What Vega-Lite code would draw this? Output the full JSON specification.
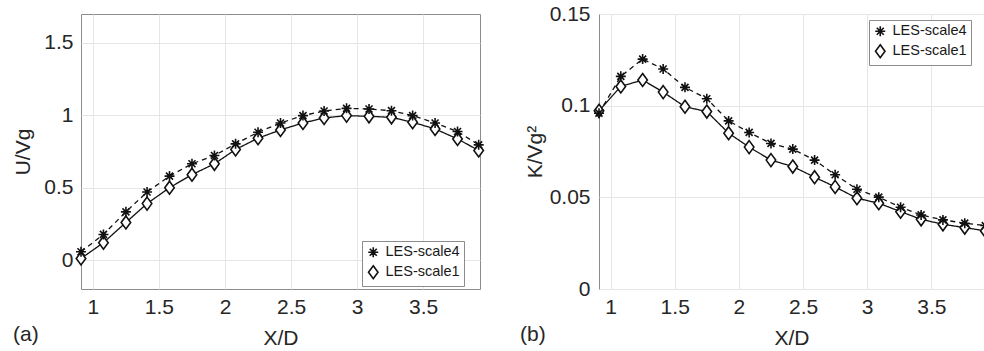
{
  "$schema": "https://vega.github.io/schema/vega-lite/v6.json",
  "background": "white",
  "padding": {"left": 12, "top": 2, "right": 0, "bottom": 0},
  "config": {
    "font": "Liberation Sans",
    "view": {"stroke": "#8c8c8c", "strokeWidth": 1},
    "axis": {
      "labelFont": "Liberation Sans", "titleFont": "Liberation Sans",
      "labelFontSize": 21, "titleFontSize": 21, "titleFontWeight": "normal",
      "labelColor": "#262626", "titleColor": "#262626",
      "domain": false, "ticks": false, "grid": true, "gridColor": "#e6e6e6", "gridWidth": 1,
      "labelExpr": "datum.value + ''", "labelFlush": false, "labelOverlap": false
    },
    "legend": {
      "labelFont": "Liberation Sans", "labelFontSize": 14.5, "labelColor": "#1a1a1a",
      "strokeColor": "#8c8c8c", "fillColor": "white", "padding": 4, "rowPadding": 1,
      "labelOffset": 5
    },
    "title": {"font": "Liberation Sans", "fontSize": 21, "fontWeight": "normal", "color": "#262626"}
  },
  "datasets": {
    "d": [
      {"series": "LES-scale1", "x": 0.91, "u": 0.011, "k": 0.0972},
      {"series": "LES-scale1", "x": 1.08, "u": 0.12, "k": 0.1105},
      {"series": "LES-scale1", "x": 1.25, "u": 0.26, "k": 0.114},
      {"series": "LES-scale1", "x": 1.41, "u": 0.39, "k": 0.1074},
      {"series": "LES-scale1", "x": 1.58, "u": 0.5, "k": 0.0994},
      {"series": "LES-scale1", "x": 1.75, "u": 0.59, "k": 0.0968},
      {"series": "LES-scale1", "x": 1.92, "u": 0.665, "k": 0.085},
      {"series": "LES-scale1", "x": 2.08, "u": 0.764, "k": 0.0774},
      {"series": "LES-scale1", "x": 2.25, "u": 0.842, "k": 0.0703},
      {"series": "LES-scale1", "x": 2.42, "u": 0.899, "k": 0.0668},
      {"series": "LES-scale1", "x": 2.59, "u": 0.947, "k": 0.061},
      {"series": "LES-scale1", "x": 2.75, "u": 0.982, "k": 0.0557},
      {"series": "LES-scale1", "x": 2.92, "u": 0.998, "k": 0.0495},
      {"series": "LES-scale1", "x": 3.09, "u": 0.993, "k": 0.0468},
      {"series": "LES-scale1", "x": 3.26, "u": 0.986, "k": 0.0422},
      {"series": "LES-scale1", "x": 3.42, "u": 0.952, "k": 0.038},
      {"series": "LES-scale1", "x": 3.59, "u": 0.906, "k": 0.0353},
      {"series": "LES-scale1", "x": 3.76, "u": 0.837, "k": 0.0335},
      {"series": "LES-scale1", "x": 3.92, "u": 0.757, "k": 0.0317},
      {"series": "LES-scale4", "x": 0.91, "u": 0.057, "k": 0.0959},
      {"series": "LES-scale4", "x": 1.08, "u": 0.177, "k": 0.116},
      {"series": "LES-scale4", "x": 1.25, "u": 0.333, "k": 0.1254},
      {"series": "LES-scale4", "x": 1.41, "u": 0.47, "k": 0.12},
      {"series": "LES-scale4", "x": 1.58, "u": 0.58, "k": 0.11},
      {"series": "LES-scale4", "x": 1.75, "u": 0.665, "k": 0.1038},
      {"series": "LES-scale4", "x": 1.92, "u": 0.722, "k": 0.0917},
      {"series": "LES-scale4", "x": 2.08, "u": 0.803, "k": 0.0854},
      {"series": "LES-scale4", "x": 2.25, "u": 0.883, "k": 0.0794},
      {"series": "LES-scale4", "x": 2.42, "u": 0.947, "k": 0.0763},
      {"series": "LES-scale4", "x": 2.59, "u": 0.998, "k": 0.0703},
      {"series": "LES-scale4", "x": 2.75, "u": 1.03, "k": 0.0623},
      {"series": "LES-scale4", "x": 2.92, "u": 1.048, "k": 0.0544},
      {"series": "LES-scale4", "x": 3.09, "u": 1.044, "k": 0.0501},
      {"series": "LES-scale4", "x": 3.26, "u": 1.032, "k": 0.0446},
      {"series": "LES-scale4", "x": 3.42, "u": 0.998, "k": 0.0404},
      {"series": "LES-scale4", "x": 3.59, "u": 0.947, "k": 0.0377},
      {"series": "LES-scale4", "x": 3.76, "u": 0.888, "k": 0.0359},
      {"series": "LES-scale4", "x": 3.92, "u": 0.796, "k": 0.0346}
    ]
  },
  "data": {"name": "d"},
  "bounds": "flush",
  "spacing": 119,
  "resolve": {
    "scale": {"shape": "independent", "x": "independent", "y": "independent"},
    "legend": {"shape": "independent"}
  },
  "hconcat": [
    {
      "width": 399,
      "height": 275,
      "title": {"text": "(a)", "orient": "bottom", "anchor": "start", "frame": "group", "dx": -68, "dy": -24, "offset": 0},
      "encoding": {
        "x": {"field": "x", "type": "quantitative", "scale": {"domain": [0.91, 3.93], "nice": false, "zero": false},
              "axis": {"title": "X/D", "values": [1, 1.5, 2, 2.5, 3, 3.5], "labelPadding": 7, "titlePadding": 10}},
        "y": {"field": "u", "type": "quantitative", "scale": {"domain": [-0.2, 1.7], "nice": false, "zero": false},
              "axis": {"title": "U/Vg", "values": [0, 0.5, 1, 1.5], "labelPadding": 8, "titlePadding": 10}}
      },
      "layer": [
        {
          "mark": {"type": "line", "color": "#111111", "strokeWidth": 1.3, "clip": true},
          "encoding": {
            "detail": {"field": "series", "type": "nominal"},
            "strokeDash": {"condition": {"test": "datum.series === 'LES-scale4'", "value": [5, 4]}, "value": [1, 0]}
          }
        },
        {
          "transform": [{"filter": "datum.series === 'LES-scale1'"}],
          "mark": {"type": "point", "filled": true, "color": "white", "opacity": 1, "size": 100, "shape": "M0,-1.3L0.95,0L0,1.3L-0.95,0Z"}
        },
        {
          "mark": {"type": "point", "filled": false, "color": "#111111", "strokeWidth": 1.6, "size": 100, "opacity": 1},
          "encoding": {
            "shape": {"field": "series", "type": "nominal",
                      "scale": {"domain": ["LES-scale4", "LES-scale1"],
                                "range": ["M0,-1L0,1M-1,0L1,0M-0.7,-0.7L0.7,0.7M-0.7,0.7L0.7,-0.7", "M0,-1.3L0.95,0L0,1.3L-0.95,0Z"]},
                      "legend": {"title": null, "orient": "none", "legendX": 281, "legendY": 227, "symbolStrokeWidth": 1.6}}
          }
        }
      ]
    },
    {
      "width": 385,
      "height": 275,
      "title": {"text": "(b)", "orient": "bottom", "anchor": "start", "frame": "group", "dx": -79, "dy": -24, "offset": 0},
      "encoding": {
        "x": {"field": "x", "type": "quantitative", "scale": {"domain": [0.91, 3.91], "nice": false, "zero": false},
              "axis": {"title": "X/D", "values": [1, 1.5, 2, 2.5, 3, 3.5], "labelPadding": 7, "titlePadding": 10}},
        "y": {"field": "k", "type": "quantitative", "scale": {"domain": [0, 0.15], "nice": false, "zero": false},
              "axis": {"title": "K/Vg²", "values": [0, 0.05, 0.1, 0.15], "labelPadding": 9, "titlePadding": 4}}
      },
      "layer": [
        {
          "mark": {"type": "line", "color": "#111111", "strokeWidth": 1.3, "clip": true},
          "encoding": {
            "detail": {"field": "series", "type": "nominal"},
            "strokeDash": {"condition": {"test": "datum.series === 'LES-scale4'", "value": [5, 4]}, "value": [1, 0]}
          }
        },
        {
          "transform": [{"filter": "datum.series === 'LES-scale1'"}],
          "mark": {"type": "point", "filled": true, "color": "white", "opacity": 1, "size": 100, "shape": "M0,-1.3L0.95,0L0,1.3L-0.95,0Z"}
        },
        {
          "mark": {"type": "point", "filled": false, "color": "#111111", "strokeWidth": 1.6, "size": 100, "opacity": 1},
          "encoding": {
            "shape": {"field": "series", "type": "nominal",
                      "scale": {"domain": ["LES-scale4", "LES-scale1"],
                                "range": ["M0,-1L0,1M-1,0L1,0M-0.7,-0.7L0.7,0.7M-0.7,0.7L0.7,-0.7", "M0,-1.3L0.95,0L0,1.3L-0.95,0Z"]},
                      "legend": {"title": null, "orient": "none", "legendX": 270, "legendY": 6, "symbolStrokeWidth": 1.6}}
          }
        }
      ]
    }
  ]
}
